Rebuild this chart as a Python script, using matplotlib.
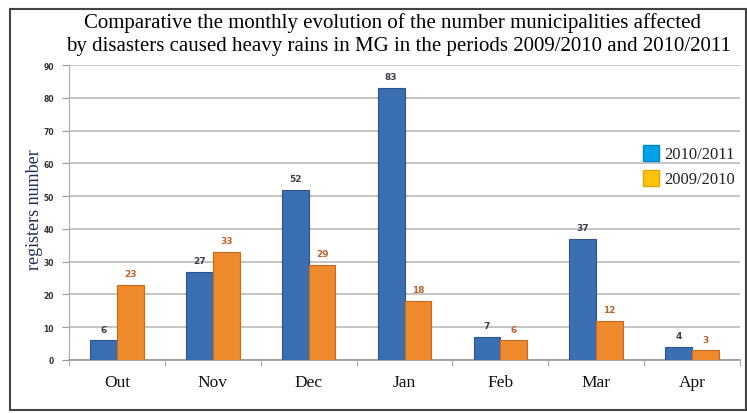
import matplotlib
matplotlib.use("Agg")
import matplotlib.pyplot as plt
from matplotlib.patches import Rectangle, Patch
import numpy as np

months = ["Out", "Nov", "Dec", "Jan", "Feb", "Mar", "Apr"]
s2010_2011 = [6, 27, 52, 83, 7, 37, 4]
s2009_2010 = [23, 33, 29, 18, 6, 12, 3]
yticks = [0, 10, 20, 30, 40, 50, 60, 70, 80, 90]

W, H = 747, 414
fig = plt.figure(figsize=(W / 100, H / 100), dpi=100)
fig.patch.set_facecolor("white")

# outer frame
fig.add_artist(Rectangle((10 / W, 3 / H), (W - 11) / W, (H - 13) / H, transform=fig.transFigure,
                         fill=False, edgecolor="#444444", linewidth=1.5))

ax = fig.add_axes([69 / W, (H - 361) / H, (740 - 69) / W, (361 - 66) / H])
x = np.arange(len(months))
bw = 0.28
ax.bar(x - bw / 2, s2010_2011, bw, color="#3b6fb2", edgecolor="#2a5590", linewidth=0.8, zorder=3)
ax.bar(x + bw / 2, s2009_2010, bw, color="#ef8a2c", edgecolor="#c86a1a", linewidth=0.8, zorder=3)

for xi, v in zip(x, s2010_2011):
    ax.text(xi - bw / 2, v + 2, str(v), ha="center", va="bottom", fontsize=6.5,
            fontweight="bold", color="#3a3f4a")
for xi, v in zip(x, s2009_2010):
    ax.text(xi + bw / 2, v + 2, str(v), ha="center", va="bottom", fontsize=6.5,
            fontweight="bold", color="#c0622a")

ax.set_xlim(-0.5, len(months) - 0.5)
ax.set_ylim(0, 90)
ax.set_yticks(yticks)
ax.set_yticklabels([str(t) for t in yticks], fontsize=5.5, fontweight="bold", color="#333333")
ax.yaxis.grid(True, color="#bbbbbb", linewidth=1.2, zorder=0)
ax.set_axisbelow(True)
ax.set_xticks(x)
ax.set_xticklabels(months, fontsize=12.5, family="Liberation Serif", color="#111111")
ax.set_xticks(np.arange(-0.5, len(months)), minor=True)
ax.tick_params(axis="x", which="major", length=0, pad=10)
ax.tick_params(axis="x", which="minor", length=4, color="#999999")
ax.tick_params(axis="y", length=5, color="#999999", pad=6)
for s in ["top", "right"]:
    ax.spines[s].set_visible(False)
ax.spines["left"].set_color("#aaaaaa")
ax.spines["bottom"].set_color("#999999")
ax.spines["bottom"].set_linewidth(1.2)

ax.set_ylabel("registers number", family="Liberation Serif", fontsize=13, color="#1f2d5a")
ax.yaxis.set_label_coords(-26 / (740 - 69), (361 - 210) / (361 - 66))

handles = [Patch(facecolor="#00a2e8", edgecolor="#0088c8"), Patch(facecolor="#ffc20e", edgecolor="#e0a800")]
leg = ax.legend(handles, ["2010/2011", "2009/2010"], loc="upper left",
                bbox_to_anchor=((636 - 69) / (740 - 69), (361 - 139) / (361 - 66)),
                frameon=False, prop={"family": "Liberation Serif", "size": 12},
                handlelength=1.0, handleheight=1.1, handletextpad=0.3, labelspacing=0.45, borderaxespad=0)
for t in leg.get_texts():
    t.set_color("#222222")

fig.text(392 / W, 1 - 23 / H, "Comparative the monthly evolution of the number municipalities affected",
         ha="center", va="center", family="Liberation Serif", fontsize=15)
fig.text(398 / W, 1 - 47 / H, "by disasters caused heavy rains in MG in the periods 2009/2010 and 2010/2011",
         ha="center", va="center", family="Liberation Serif", fontsize=15)

fig.savefig("out.png", dpi=100)
